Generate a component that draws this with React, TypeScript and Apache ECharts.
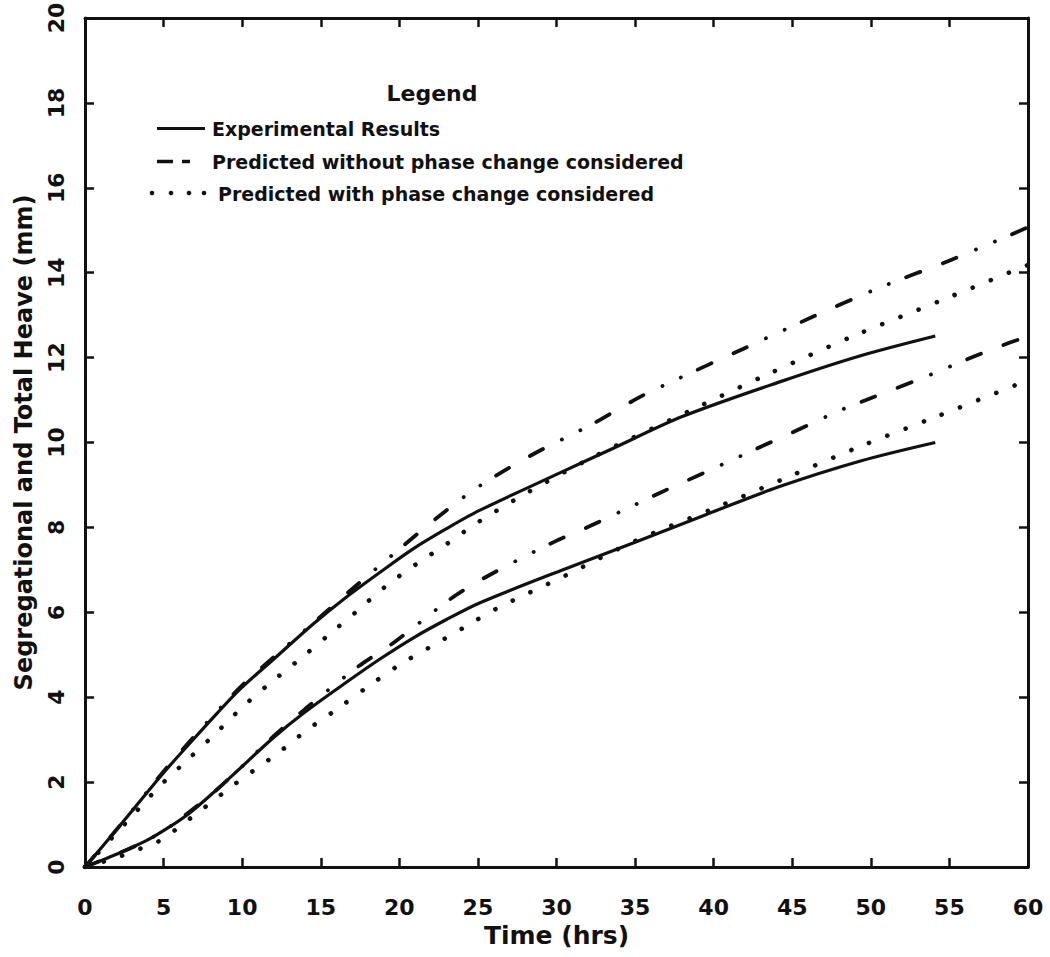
import React, { useEffect, useRef } from "react";
import * as echarts from "echarts";

// ---- Data (x = Time in hrs, y = heave in mm) ----
// Total heave, experimental (solid, upper)
const expTotalX = [0, 1.6, 2.5, 5, 7, 8.4, 9.9, 12.2, 14.5, 16.6, 18.8, 20.9, 23, 25.1, 30.25, 33.65, 38, 44.3, 49.4, 54.1];
const expTotalY = [0, 0.7, 1.1, 2.22, 3.05, 3.62, 4.2, 4.96, 5.72, 6.35, 6.95, 7.5, 7.97, 8.4, 9.29, 9.87, 10.61, 11.44, 12.05, 12.51];
// Total heave, predicted without phase change (dash-dot, upper)
const noPhaseTotalX = [0, 2.5, 5, 7.5, 10, 12.5, 15, 17, 20.2, 22.3, 25, 28.4, 32.2, 35.35, 37.6, 41.9, 46.3, 50.7, 55.1, 60];
const noPhaseTotalY = [0, 1.1, 2.25, 3.3, 4.28, 5.1, 5.9, 6.55, 7.55, 8.2, 8.95, 9.7, 10.42, 11.08, 11.48, 12.21, 12.96, 13.67, 14.3, 15.07];
// Total heave, predicted with phase change (dotted, upper)
const phaseTotalX = [0, 2.5, 4.77, 6.57, 8.27, 9.97, 11.77, 13.68, 15.48, 17.28, 19.19, 21.1, 23.1, 25, 28.2, 32.4, 38.96, 43.4, 48.9, 54.5, 58.85, 60];
const phaseTotalY = [0, 1.0, 1.91, 2.54, 3.13, 3.75, 4.33, 4.9, 5.46, 6.02, 6.63, 7.14, 7.63, 8.12, 8.83, 9.67, 10.83, 11.6, 12.51, 13.35, 14.01, 14.18];
// Segregational heave, experimental (solid, lower)
const expSegX = [0, 1, 2, 3.9, 5.4, 6.68, 8.16, 9.65, 12, 14, 16.43, 18.77, 20.9, 23, 25.1, 30.25, 35, 39.5, 44.1, 49.4, 54.1];
const expSegY = [0, 0.15, 0.3, 0.62, 0.95, 1.28, 1.75, 2.25, 3.05, 3.65, 4.3, 4.9, 5.4, 5.83, 6.22, 6.98, 7.65, 8.3, 8.95, 9.57, 10.0];
// Segregational heave, predicted without phase change (dash-dot, lower)
const noPhaseSegX = [0, 2, 3.9, 5.4, 8.16, 9.65, 12, 14, 17.3, 19.7, 23.2, 25.6, 29.85, 32.06, 34.8, 36.5, 40.3, 43, 45.2, 48, 49.7, 53.6, 56.4, 58.6, 60];
const noPhaseSegY = [0, 0.3, 0.62, 0.95, 1.75, 2.25, 3.08, 3.72, 4.7, 5.3, 6.3, 6.85, 7.66, 8.02, 8.5, 8.8, 9.44, 9.9, 10.27, 10.75, 11.0, 11.57, 12.0, 12.32, 12.5];
// Segregational heave, predicted with phase change (dotted, lower)
const phaseSegX = [0, 2, 3.5, 4.56, 5.51, 6.5, 7.46, 8.38, 9.33, 12.3, 14.1, 16, 18, 20, 22.05, 24.2, 26.2, 30.6, 35, 40.5, 45, 49.4, 53.9, 59.4, 60];
const phaseSegY = [0, 0.22, 0.43, 0.58, 0.81, 1.09, 1.36, 1.62, 1.9, 2.69, 3.22, 3.71, 4.25, 4.76, 5.2, 5.66, 6.09, 6.87, 7.68, 8.52, 9.23, 9.92, 10.57, 11.38, 11.47];

const X_MIN = 0, X_MAX = 60, X_STEP = 5;
const Y_MIN = 0, Y_MAX = 20, Y_STEP = 2;

const legendTitle = "Legend";
const legendItems = [
  "Experimental Results",
  "Predicted without phase change considered",
  "Predicted with phase change considered",
];
const xName = "Time (hrs)";
const yName = "Segregational and Total Heave (mm)";

const zip = (xs: number[], ys: number[]) => xs.map((x, i) => [x, ys[i]]);

const INK = "#111";
const FONT = "DejaVu Sans";

export default function App() {
  const ref = useRef<HTMLDivElement>(null);

  useEffect(() => {
    if (!ref.current) return;
    const chart = echarts.init(ref.current, undefined, { renderer: "svg" });

    const solid = { color: INK, width: 3.2, type: "solid" as const };
    const dashDot = {
      color: INK,
      width: 3.8,
      type: [15, 24, 15, 21, 0.1, 20.4, 0.1, 18.4],
      cap: "round" as const,
    };
    const dotted = { color: INK, width: 4.6, type: [0.1, 19.4], cap: "round" as const };

    const mk = (name: string, xs: number[], ys: number[], ls: any) => ({
      name,
      type: "line",
      data: zip(xs, ys),
      showSymbol: false,
      symbol: "none",
      smooth: 0.3,
      silent: true,
      lineStyle: ls,
      clip: true,
    });

    const axisCommon = {
      axisLine: { show: true, onZero: false, lineStyle: { color: INK, width: 3 } },
      axisTick: { show: true, inside: true, length: 9, lineStyle: { color: INK, width: 2.5 } },
      splitLine: { show: false },
    };

    const labelFont = { color: INK, fontFamily: FONT, fontWeight: "bold" as const, fontSize: 22 };

    const legX = 157;
    const rows = [128.5, 161.5, 193];

    chart.setOption({
      animation: false,
      backgroundColor: "#fff",
      grid: { left: 85, right: 22, top: 18, bottom: 90, outerBoundsMode: "none" },
      xAxis: [
        {
          type: "value",
          min: X_MIN,
          max: X_MAX,
          interval: X_STEP,
          position: "bottom",
          ...axisCommon,
          axisLabel: { ...labelFont, margin: 29 },
          name: xName,
          nameLocation: "middle",
          nameGap: 56,
          nameTextStyle: { color: INK, fontFamily: FONT, fontWeight: "bold", fontSize: 25 },
        },
        {
          type: "value",
          min: X_MIN,
          max: X_MAX,
          interval: X_STEP,
          position: "top",
          ...axisCommon,
          axisLabel: { show: false },
        },
      ],
      yAxis: [
        {
          type: "value",
          min: Y_MIN,
          max: Y_MAX,
          interval: Y_STEP,
          position: "left",
          ...axisCommon,
          axisLabel: { ...labelFont, rotate: 90, margin: 18 },
          name: yName,
          nameLocation: "middle",
          nameRotate: 90,
          nameGap: 49,
          nameTextStyle: { color: INK, fontFamily: FONT, fontWeight: "bold", fontSize: 24 },
        },
        {
          type: "value",
          min: Y_MIN,
          max: Y_MAX,
          interval: Y_STEP,
          position: "right",
          ...axisCommon,
          axisLabel: { show: false },
        },
      ],
      series: [
        mk("expTotal", expTotalX, expTotalY, solid),
        mk("noPhaseTotal", noPhaseTotalX, noPhaseTotalY, dashDot),
        mk("phaseTotal", phaseTotalX, phaseTotalY, dotted),
        mk("expSeg", expSegX, expSegY, solid),
        mk("noPhaseSeg", noPhaseSegX, noPhaseSegY, dashDot),
        mk("phaseSeg", phaseSegX, phaseSegY, dotted),
      ],
      graphic: [
        {
          type: "text",
          x: 432,
          y: 93,
          style: {
            text: legendTitle,
            fill: INK,
            font: `bold 22px "${FONT}"`,
            textAlign: "center",
            textVerticalAlign: "middle",
          },
        },
        {
          type: "line",
          shape: { x1: legX, y1: rows[0], x2: legX + 48, y2: rows[0] },
          style: { stroke: INK, lineWidth: 3 },
        },
        {
          type: "line",
          shape: { x1: legX, y1: rows[1], x2: legX + 16, y2: rows[1] },
          style: { stroke: INK, lineWidth: 3.5 },
        },
        {
          type: "line",
          shape: { x1: legX + 25, y1: rows[1], x2: legX + 33, y2: rows[1] },
          style: { stroke: INK, lineWidth: 3.5 },
        },
        ...[152, 171, 189, 204].map((cx) => ({
          type: "circle",
          shape: { cx, cy: rows[2], r: 2.3 },
          style: { fill: INK },
        })),
        ...legendItems.map((t, i) => ({
          type: "text",
          x: i === 2 ? 218 : 212,
          y: rows[i] + 0.5,
          style: {
            text: t,
            fill: INK,
            font: `bold 19px "${FONT}"`,
            textAlign: "left",
            textVerticalAlign: "middle",
          },
        })),
      ],
    });

    return () => chart.dispose();
  }, []);

  return (
    <div
      ref={ref}
      style={{ position: "absolute", left: 0, top: 0, width: 1050, height: 957, background: "#fff" }}
    />
  );
}
